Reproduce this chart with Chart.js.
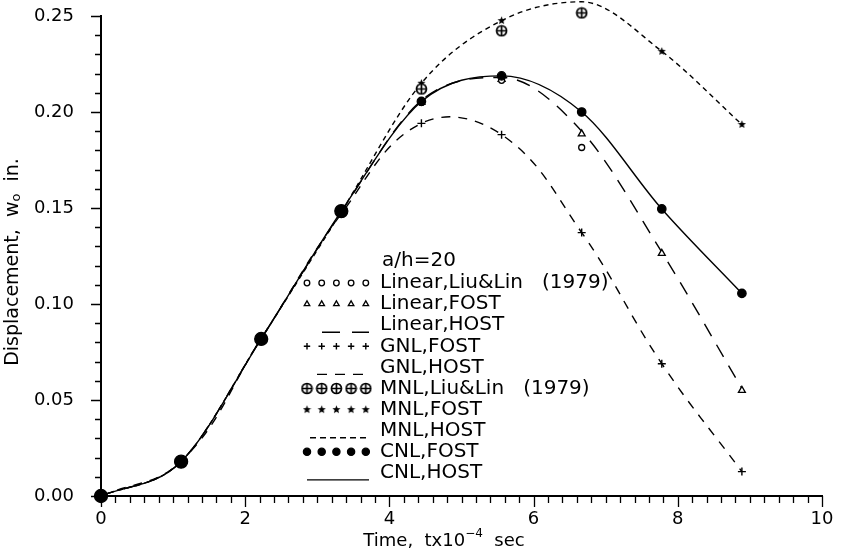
<!DOCTYPE html>
<html>
<head>
<meta charset="utf-8">
<script src="https://cdn.jsdelivr.net/npm/chart.js@4.4.1/dist/chart.umd.min.js"></script>
<style>
  html, body { margin: 0; padding: 0; background: #fff; }
</style>
</head>
<body>
<canvas id="chart" width="842" height="554"></canvas>
<script>
// time steps, t x 10^-4 sec
const TIME = [0, 1.111, 2.222, 3.333, 4.444, 5.556, 6.667, 7.778, 8.889];

// displacement w_o (in.)
const LINEAR_LIU  = [0, 0.018, 0.082, 0.148, 0.205, 0.2165, 0.1815];
const LINEAR_FOST = [0, 0.018, 0.082, 0.148, 0.205, 0.2170, 0.1886, 0.1264, 0.0550];
const LINEAR_HOST = [0, 0.018, 0.082, 0.148, 0.206, 0.2180, 0.1900, 0.1270, 0.0560];
const GNL_FOST    = [0, 0.018, 0.082, 0.147, 0.1941, 0.1882, 0.1372, 0.0689, 0.0127];
const GNL_HOST    = [0, 0.018, 0.082, 0.147, 0.1941, 0.1882, 0.1372, 0.0689, 0.0127];
const MNL_LIU     = [0, 0.018, 0.082, 0.148, 0.2120, 0.2423, 0.2516];
const MNL_FOST    = [0, 0.018, 0.082, 0.148, 0.2150, 0.2476, 0.2574, 0.2316, 0.1935];
const MNL_HOST    = [0, 0.018, 0.082, 0.148, 0.2150, 0.2476, 0.2574, 0.2316, 0.1935];
const CNL_FOST    = [0, 0.0179, 0.0818, 0.1484, 0.2055, 0.2188, 0.2000, 0.1495, 0.1055];
const CNL_HOST    = [0, 0.0179, 0.0818, 0.1484, 0.2055, 0.2188, 0.2000, 0.1495, 0.1055];

const X_MAJOR = [0, 2, 4, 6, 8, 10];
const Y_MAJOR = [0, 0.05, 0.10, 0.15, 0.20, 0.25];
const LEGEND_TITLE = 'a/h=20';

const FONT = '"DejaVu Sans", sans-serif';

// ── Marker images ─────────────────────────────────────
const mkImg = (size, draw) => {
  const c = document.createElement('canvas');
  c.width = size; c.height = size;
  draw(c.getContext('2d'), size / 2);
  return c;
};

const OPLUS = mkImg(13, (g, m) => {
  g.strokeStyle = '#000'; g.fillStyle = '#fff'; g.lineWidth = 1.7;
  g.beginPath(); g.arc(m, m, 5, 0, Math.PI * 2); g.fill(); g.stroke();
  g.beginPath();
  g.moveTo(m - 5, m); g.lineTo(m + 5, m);
  g.moveTo(m, m - 5); g.lineTo(m, m + 5);
  g.stroke();
});

const STAR = mkImg(9, (g, m) => {
  g.fillStyle = '#000';
  g.beginPath();
  for (let i = 0; i < 10; i++) {
    const r = i % 2 ? 1.9 : 4.3;
    const a = -Math.PI / 2 + i * Math.PI / 5;
    g.lineTo(m + r * Math.cos(a), m + r * Math.sin(a));
  }
  g.closePath(); g.fill();
});

// ── Datasets ──────────────────────────────────────────
const pts = vals => vals.map((v, i) => ({ x: TIME[i], y: v }));

const markDs = (label, vals, style, opts) => Object.assign({
  label, data: pts(vals), showLine: false, order: 1, clip: false,
  pointStyle: style, pointRadius: 3.5, pointBorderWidth: 1.3,
  pointBorderColor: '#000', pointBackgroundColor: '#fff', legendRadius: 2.8,
}, opts);

const lineDs = (label, vals, dash, legendDash, legendFrom, smooth) => Object.assign({
  label, data: pts(vals), showLine: true, order: 2, clip: false,
  borderColor: '#000', borderWidth: 1.4, borderDash: dash,
  pointRadius: 0, capBezierPoints: false,
  legendDash, legendFrom,
}, smooth);

const MONO = { cubicInterpolationMode: 'monotone' };
const BEZ = { tension: 0.4 };

const datasets = [
  markDs('Linear,Liu&Lin   (1979)', LINEAR_LIU, 'circle', { pointRadius: 3 }),
  markDs('Linear,FOST', LINEAR_FOST, 'triangle', { pointRadius: 4, legendRadius: 3.2 }),
  lineDs('Linear,HOST', LINEAR_HOST, [14, 10], [18, 12], 322, MONO),
  markDs('GNL,FOST', GNL_FOST, 'cross', { pointRadius: 4, pointBorderWidth: 1.4, legendRadius: 3.2 }),
  lineDs('GNL,HOST', GNL_HOST, [9, 8], [10, 8], 317, BEZ),
  markDs('MNL,Liu&Lin   (1979)', MNL_LIU, OPLUS),
  markDs('MNL,FOST', MNL_FOST, STAR),
  lineDs('MNL,HOST', MNL_HOST, [5, 4], [6, 4], 310, MONO),
  markDs('CNL,FOST', CNL_FOST, 'circle', {
    order: 0,
    pointBackgroundColor: '#000',
    pointRadius: c => (c.parsed && c.parsed.x < 4 ? 6.5 : 4.2),
    legendRadius: 3.6,
  }),
  lineDs('CNL,HOST', CNL_HOST, [], [], 307, MONO),
];

// ── Plugins ───────────────────────────────────────────
const isMajor = (list, v) => list.some(m => Math.abs(m - v) < 1e-9);

const tickMarks = {
  id: 'tickMarks',
  beforeDatasetsDraw(chart) {
    const { ctx, scales: { x, y } } = chart;
    ctx.save();
    ctx.strokeStyle = '#000';
    ctx.lineWidth = 1.3;
    ctx.beginPath();
    y.ticks.forEach(t => {
      const py = Math.round(y.getPixelForValue(t.value)) + 0.5;
      const len = isMajor(Y_MAJOR, t.value) ? 10 : 6;
      ctx.moveTo(y.right - len, py); ctx.lineTo(y.right, py);
    });
    x.ticks.forEach(t => {
      const px = Math.round(x.getPixelForValue(t.value)) + 0.5;
      const len = isMajor(X_MAJOR, t.value) ? 11 : 7;
      ctx.moveTo(px, x.top); ctx.lineTo(px, x.top + len);
    });
    ctx.stroke();
    ctx.restore();
  },
};

const axisTitles = {
  id: 'axisTitles',
  afterDraw(chart) {
    const ctx = chart.ctx;
    ctx.save();
    ctx.fillStyle = '#000';
    ctx.textBaseline = 'middle';
    ctx.textAlign = 'left';

    // x: Time,  tx10^-4  sec
    const big = `18px ${FONT}`, small = `12px ${FONT}`;
    const xParts = [['Time,  tx10', big, 0], ['\u22124', small, -7], ['  sec', big, 0]];
    const w = xParts.reduce((s, p) => { ctx.font = p[1]; return s + ctx.measureText(p[0]).width; }, 0);
    let cx = 444 - w / 2;
    xParts.forEach(([s, f, dy]) => { ctx.font = f; ctx.fillText(s, cx, 541 + dy); cx += ctx.measureText(s).width; });

    // y: Displacement,  w_o  in.
    ctx.translate(13, 262);
    ctx.rotate(-Math.PI / 2);
    const yb = `19px ${FONT}`, ys = `13px ${FONT}`;
    const yParts = [['Displacement,  w', yb, 0], ['o', ys, 4], ['  in.', yb, 0]];
    const wy = yParts.reduce((s, p) => { ctx.font = p[1]; return s + ctx.measureText(p[0]).width; }, 0);
    let cy = -wy / 2;
    yParts.forEach(([s, f, dy]) => { ctx.font = f; ctx.fillText(s, cy, dy); cy += ctx.measureText(s).width; });
    ctx.restore();
  },
};

const legendBox = {
  id: 'legendBox',
  afterDatasetsDraw(chart) {
    const ctx = chart.ctx;
    ctx.save();
    ctx.font = `20px ${FONT}`;
    ctx.fillStyle = '#000';
    ctx.textBaseline = 'middle';
    ctx.fillText(LEGEND_TITLE, 382, 261);
    chart.data.datasets.forEach((ds, i) => {
      const yy = 283 + i * 21.1;
      ctx.fillStyle = '#000';
      ctx.fillText(ds.label, 380, yy);
      if (ds.showLine) {
        ctx.save();
        ctx.strokeStyle = ds.borderColor;
        ctx.lineWidth = ds.borderWidth;
        ctx.setLineDash(ds.legendDash);
        ctx.beginPath();
        ctx.moveTo(ds.legendFrom, yy + 7);
        ctx.lineTo(369, yy + 7);
        ctx.stroke();
        ctx.restore();
      } else {
        for (let k = 0; k < 5; k++) {
          ctx.save();
          ctx.fillStyle = ds.pointBackgroundColor;
          ctx.strokeStyle = ds.pointBorderColor;
          ctx.lineWidth = ds.pointBorderWidth;
          Chart.helpers.drawPoint(ctx, {
            pointStyle: ds.pointStyle, rotation: 0,
            radius: ds.legendRadius, borderWidth: ds.pointBorderWidth,
          }, 307 + k * 14.7, yy);
          ctx.restore();
        }
      }
    });
    ctx.restore();
  },
};

// ── Chart ─────────────────────────────────────────────
Chart.defaults.font.family = FONT;
Chart.defaults.font.size = 18;
Chart.defaults.color = '#000';

new Chart(document.getElementById('chart'), {
  type: 'scatter',
  data: { datasets },
  options: {
    responsive: false,
    animation: false,
    devicePixelRatio: 1,
    layout: { padding: { top: 16, right: 20, left: 0, bottom: 0 } },
    elements: { line: { capBezierPoints: false } },
    plugins: { legend: { display: false }, tooltip: { enabled: false } },
    scales: {
      x: {
        type: 'linear', min: 0, max: 10,
        afterFit: s => { s.height = 58; s.paddingLeft = 0; s.paddingRight = 0; },
        border: { color: '#000', width: 2 },
        grid: { drawOnChartArea: false, drawTicks: false },
        ticks: {
          stepSize: 0.2, maxTicksLimit: 1000, autoSkip: false, maxRotation: 0, padding: 13,
          callback: v => (isMajor(X_MAJOR, v) ? String(Math.round(v)) : ''),
        },
      },
      y: {
        type: 'linear', min: 0, max: 0.25,
        afterFit: s => { s.width = 101; s.paddingTop = 0; s.paddingBottom = 0; },
        border: { color: '#000', width: 2 },
        grid: { drawOnChartArea: false, drawTicks: false },
        ticks: {
          stepSize: 0.01, maxTicksLimit: 1000, autoSkip: false, padding: 27,
          callback: v => (isMajor(Y_MAJOR, v) ? v.toFixed(2) : ''),
        },
      },
    },
  },
  plugins: [tickMarks, legendBox, axisTitles],
});
</script>
</body>
</html>
